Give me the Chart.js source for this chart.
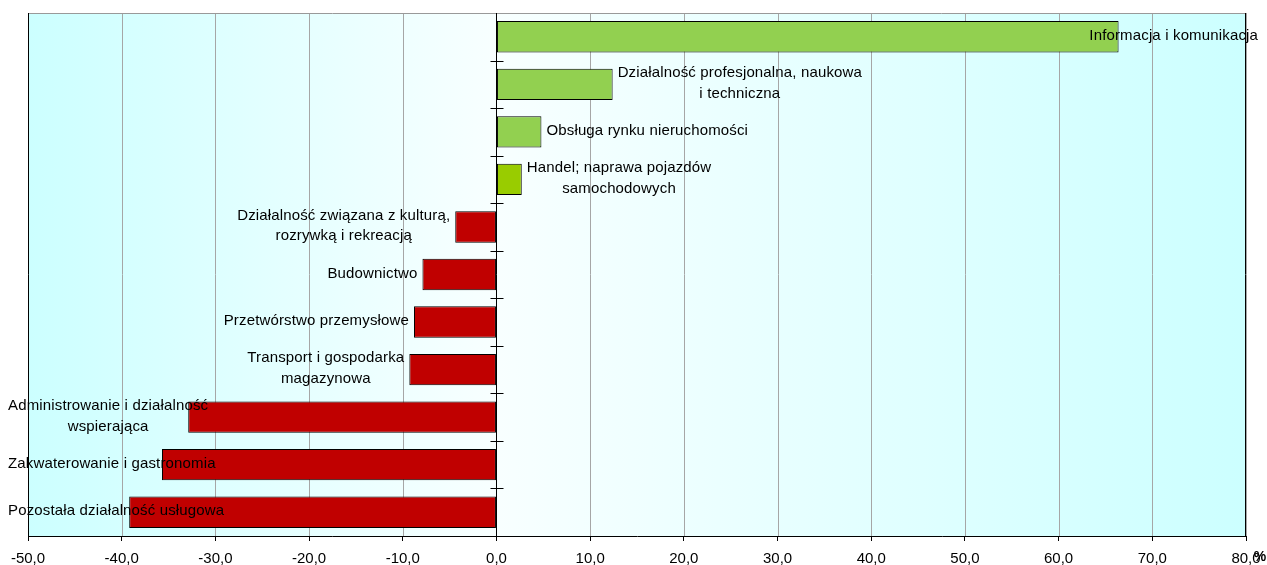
<!DOCTYPE html>
<html>
<head>
<meta charset="utf-8">
<script src="https://cdn.jsdelivr.net/npm/chart.js@4.4.1/dist/chart.umd.min.js"></script>
<style>
  html, body { margin: 0; padding: 0; background: #fff; }
  #wrap { width: 1267px; height: 565px; position: relative; }
</style>
</head>
<body>
<div id="wrap"><canvas id="chart"></canvas></div>
<script>
// ====== DATA ======
const categories = [
  'Informacja i komunikacja',
  ['Działalność profesjonalna, naukowa', 'i techniczna'],
  'Obsługa rynku nieruchomości',
  ['Handel; naprawa pojazdów', 'samochodowych'],
  ['Działalność związana z kulturą,', 'rozrywką i rekreacją'],
  'Budownictwo',
  'Przetwórstwo przemysłowe',
  ['Transport i gospodarka', 'magazynowa'],
  ['Administrowanie i działalność', 'wspierająca'],
  'Zakwaterowanie i gastronomia',
  'Pozostała działalność usługowa'
];
const values = [66.4, 12.4, 4.8, 2.7, -4.4, -7.9, -8.8, -9.3, -32.9, -35.7, -39.2];
const barColors = ['#92D050', '#92D050', '#92D050', '#99CC00', '#C00000', '#C00000',
  '#C00000', '#C00000', '#C00000', '#C00000', '#C00000'];
const xTicks = [-50, -40, -30, -20, -10, 0, 10, 20, 30, 40, 50, 60, 70, 80];

const FONT = '"Liberation Sans", Arial, sans-serif';

// Utility: polish decimal comma
function formatTick(v) {
  return v.toFixed(1).replace('.', ',');
}

// background gradient: cyan at the edges, almost white at zero
const backgroundPlugin = {
  id: 'plotBackground',
  beforeDatasetsDraw(chart) {
    const { ctx, chartArea: a, scales } = chart;
    const x0 = scales.x.getPixelForValue(0);
    const g = ctx.createLinearGradient(a.left, 0, a.right, 0);
    g.addColorStop(0, '#CCFFFF');
    g.addColorStop((x0 - a.left) / (a.right - a.left), '#F8FFFF');
    g.addColorStop(1, '#CCFFFF');
    ctx.save();
    ctx.fillStyle = g;
    ctx.fillRect(a.left, a.top, a.right - a.left, a.bottom - a.top);
    ctx.restore();
  }
};

// grid over the background, then frame + zero axis with cross ticks
const framePlugin = {
  id: 'frame',
  beforeDatasetsDraw(chart) {
    const { ctx, chartArea: a, scales } = chart;
    ctx.save();
    ctx.strokeStyle = '#A6A6A6';
    ctx.lineWidth = 1;
    xTicks.forEach(t => {
      const px = Math.round(scales.x.getPixelForValue(t)) + 0.5;
      ctx.beginPath();
      ctx.moveTo(px, a.top);
      ctx.lineTo(px, a.bottom);
      ctx.stroke();
    });
    ctx.restore();
  },
  afterDatasetsDraw(chart) {
    const { ctx, chartArea: a, scales } = chart;
    const x0 = Math.round(scales.x.getPixelForValue(0)) + 0.5;
    ctx.save();
    ctx.lineWidth = 1;
    ctx.strokeStyle = '#999';
    ctx.beginPath();
    ctx.moveTo(a.left, a.top + 0.5);
    ctx.lineTo(a.right, a.top + 0.5);
    ctx.stroke();
    ctx.strokeStyle = '#000';
    ctx.beginPath();
    ctx.moveTo(Math.round(a.left) + 0.5, a.top);
    ctx.lineTo(Math.round(a.left) + 0.5, a.bottom);
    ctx.moveTo(Math.round(a.right) - 0.5, a.top);
    ctx.lineTo(Math.round(a.right) - 0.5, a.bottom);
    ctx.moveTo(x0, a.top);
    ctx.lineTo(x0, a.bottom);
    const n = categories.length;
    for (let i = 1; i < n; i++) {
      const y = Math.round(a.top + i * (a.bottom - a.top) / n) + 0.5;
      ctx.moveTo(x0 - 6, y);
      ctx.lineTo(x0 + 7, y);
    }
    ctx.stroke();
    ctx.restore();
  }
};

// category names next to the bars, kept inside the canvas
const labelPlugin = {
  id: 'barLabels',
  afterDatasetsDraw(chart) {
    const ctx = chart.ctx;
    const meta = chart.getDatasetMeta(0);
    ctx.save();
    ctx.font = '15px ' + FONT;
    ctx.letterSpacing = '0.15px';
    ctx.fillStyle = '#000';
    ctx.textBaseline = 'middle';
    ctx.textAlign = 'center';
    meta.data.forEach((bar, i) => {
      const lines = [].concat(categories[i]);
      const w = Math.max(...lines.map(l => ctx.measureText(l).width));
      let left;
      if (values[i] >= 0) {
        left = bar.x + 5;
        if (left + w > chart.width - 9) left = chart.width - 9 - w;
      } else {
        left = bar.x - 5 - w;
        if (left < 8) left = 8;
      }
      lines.forEach((line, k) => {
        const y = bar.y - 1 + (k - (lines.length - 1) / 2) * 20.5;
        ctx.fillText(line, left + w / 2, y);
      });
    });
    // unit sign after the last tick
    ctx.letterSpacing = '0px';
    ctx.font = 'bold 14px ' + FONT;
    ctx.fillText('%', chart.scales.x.getPixelForValue(80) + 14, 557);
    ctx.restore();
  }
};

const ctx = document.getElementById('chart').getContext('2d');
new Chart(ctx, {
  type: 'bar',
  data: {
    labels: categories,
    datasets: [{
      data: values,
      backgroundColor: barColors,
      borderColor: '#000',
      borderWidth: 1,
      borderSkipped: false,
      categoryPercentage: 1,
      barPercentage: 0.66
    }]
  },
  options: {
    indexAxis: 'y',
    responsive: true,
    maintainAspectRatio: false,
    animation: false,
    layout: { padding: { left: 28, right: 21, top: 13, bottom: 0 } },
    plugins: {
      legend: { display: false },
      tooltip: { enabled: false }
    },
    scales: {
      x: {
        min: -50,
        max: 80,
        afterBuildTicks: axis => { axis.ticks = xTicks.map(v => ({ value: v })); },
        afterFit: axis => {
          axis.height = 29;
          axis.paddingLeft = 0;
          axis.paddingRight = 0;
        },
        ticks: {
          color: '#000',
          font: { size: 15, family: FONT },
          padding: 9,
          maxRotation: 0,
          callback: v => formatTick(v)
        },
        grid: {
          drawOnChartArea: false,
          drawTicks: true,
          tickLength: 5,
          tickColor: '#000'
        },
        border: { color: '#000', width: 1 }
      },
      y: {
        display: false
      }
    }
  },
  plugins: [backgroundPlugin, framePlugin, labelPlugin]
});
</script>
</body>
</html>
